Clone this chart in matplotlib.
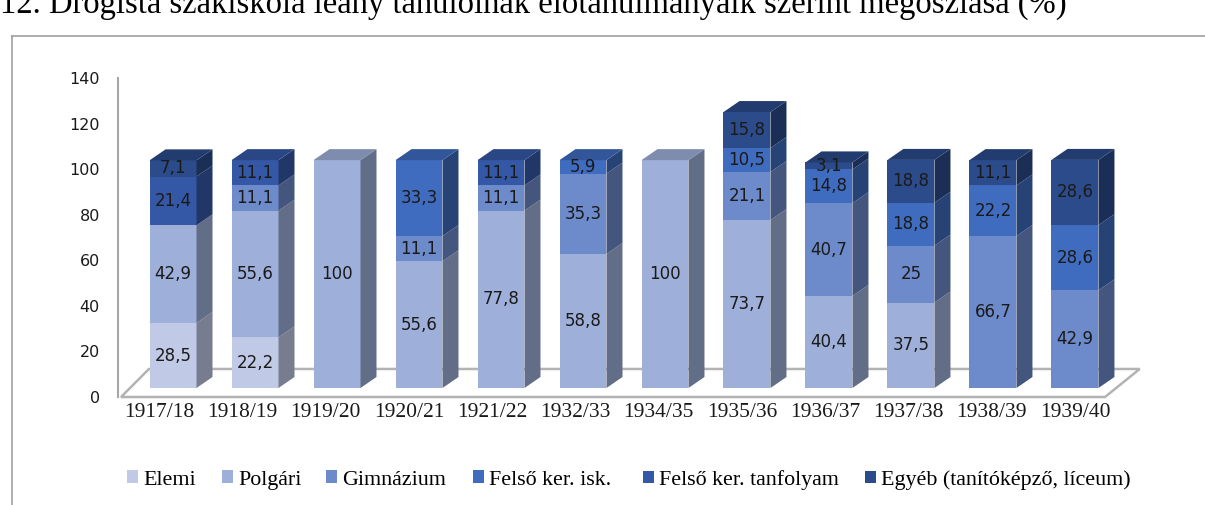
import numpy as np
import matplotlib.pyplot as plt
from matplotlib.patches import Polygon, Patch
from matplotlib.lines import Line2D

years = ['1917/18', '1918/19', '1919/20', '1920/21', '1921/22', '1932/33',
         '1934/35', '1935/36', '1936/37', '1937/38', '1938/39', '1939/40']
names = ['Elemi', 'Polgári', 'Gimnázium', 'Felső ker. isk.',
         'Felső ker. tanfolyam', 'Egyéb (tanítóképző, líceum)']
elemi = [28.5, 22.2, 0, 0, 0, 0, 0, 0, 0, 0, 0, 0]
polgari = [42.9, 55.6, 100, 55.6, 77.8, 58.8, 100, 73.7, 40.4, 37.5, 0, 0]
gimnazium = [0, 11.1, 0, 11.1, 11.1, 35.3, 0, 21.1, 40.7, 25, 66.7, 42.9]
felso_isk = [0, 0, 0, 33.3, 0, 5.9, 0, 10.5, 14.8, 18.8, 22.2, 28.6]
felso_tanf = [21.4, 11.1, 0, 0, 11.1, 0, 0, 0, 0, 0, 0, 0]
egyeb = [7.1, 0, 0, 0, 0, 0, 0, 15.8, 3.1, 18.8, 11.1, 28.6]
series = [elemi, polgari, gimnazium, felso_isk, felso_tanf, egyeb]
colors = ['#c0cae6', '#9eafd9', '#6d8acb', '#3f6cbf', '#3558a6', '#2c4b8b']
title = '12. Drogista szakiskola leány tanulóinak előtanulmányaik szerint megoszlása (%)'


def shade(c, f):
    r, g, b = [int(c[k:k + 2], 16) / 255 for k in (1, 3, 5)]
    return (r * f, g * f, b * f)


W, H = 1205, 505
fig = plt.figure(figsize=(W / 100, H / 100), dpi=100)
ax = fig.add_axes([118 / W, (H - 397) / H, (1150 - 118) / W, (397 - 78) / H])
ax.set_xlim(-0.671, 11.915)
ax.set_ylim(0, 140)

lift = 3.95   # bars stand a bit behind the front edge of the floor
ddx, ddy = 0.195, 4.83   # depth of the bars
bw = 0.573

# floor
ax.add_patch(Polygon([(-0.634, 0), (11.366, 0), (11.79, 12.3), (-0.293, 12.3)],
                     closed=True, facecolor='white', edgecolor='#b3b3b3',
                     lw=1.8, zorder=1, clip_on=False))

x = np.arange(len(years))
cum = np.zeros(len(years))
tops = np.sum(series, axis=0)
for s, vals in enumerate(series):
    vals = np.array(vals, dtype=float)
    ax.bar(x, vals, bottom=cum + lift, width=bw, color=colors[s],
           edgecolor='none', zorder=3)
    for i, v in enumerate(vals):
        if v <= 0:
            continue
        y0, y1 = cum[i] + lift, cum[i] + v + lift
        xr = x[i] + bw / 2
        ax.add_patch(Polygon([(xr, y0), (xr + ddx, y0 + ddy), (xr + ddx, y1 + ddy), (xr, y1)],
                             closed=True, facecolor=shade(colors[s], 0.62),
                             edgecolor='none', zorder=3))
        if abs(cum[i] + v - tops[i]) < 1e-6:
            xl = x[i] - bw / 2
            ax.add_patch(Polygon([(xl, y1), (xr, y1), (xr + ddx, y1 + ddy), (xl + ddx, y1 + ddy)],
                                 closed=True, facecolor=shade(colors[s], 0.8),
                                 edgecolor='none', zorder=3))
        ax.text(x[i], (y0 + y1) / 2, f'{v:g}'.replace('.', ','), ha='center',
                va='center', fontsize=12, color='#1a1a1a', zorder=5)
    cum += vals

for sp in ['top', 'right', 'bottom']:
    ax.spines[sp].set_visible(False)
ax.spines['left'].set_color('#a6a6a6')
ax.spines['left'].set_linewidth(1.5)
ax.set_yticks(range(0, 141, 20))
ax.tick_params(axis='y', length=0, pad=13, labelsize=11.5, labelcolor='#1a1a1a')
ax.set_xticks(x - 0.17 * (1 - x / 11))
ax.set_xticklabels(years, family='Liberation Serif', fontsize=15.5, color='#1a1a1a')
ax.tick_params(axis='x', length=0, pad=4)

# legend entries placed like the original
leg_x = [127, 222, 326, 473, 643, 865]
for k in range(len(names)):
    fig.legend([Patch(facecolor=colors[k], edgecolor='none')], [names[k]],
               loc='center left', bbox_to_anchor=(leg_x[k] / W, 1 - 480 / H),
               frameon=False, borderpad=0, borderaxespad=0,
               handlelength=0.5, handleheight=0.5, handletextpad=0.25,
               prop={'family': 'Liberation Serif', 'size': 15.8})

# chart frame and cut-off title
fig.add_artist(Line2D([12 / W, 12 / W], [0, 1 - 36 / H], color='#a0a0a0', lw=1.2))
fig.add_artist(Line2D([12 / W, 1], [1 - 36 / H, 1 - 36 / H], color='#a0a0a0', lw=1.2))
fig.text(0.0, 1 - 13 / H, title, family='Liberation Serif', fontsize=23.5,
         va='baseline', ha='left')

fig.savefig('out.png', dpi=100)
